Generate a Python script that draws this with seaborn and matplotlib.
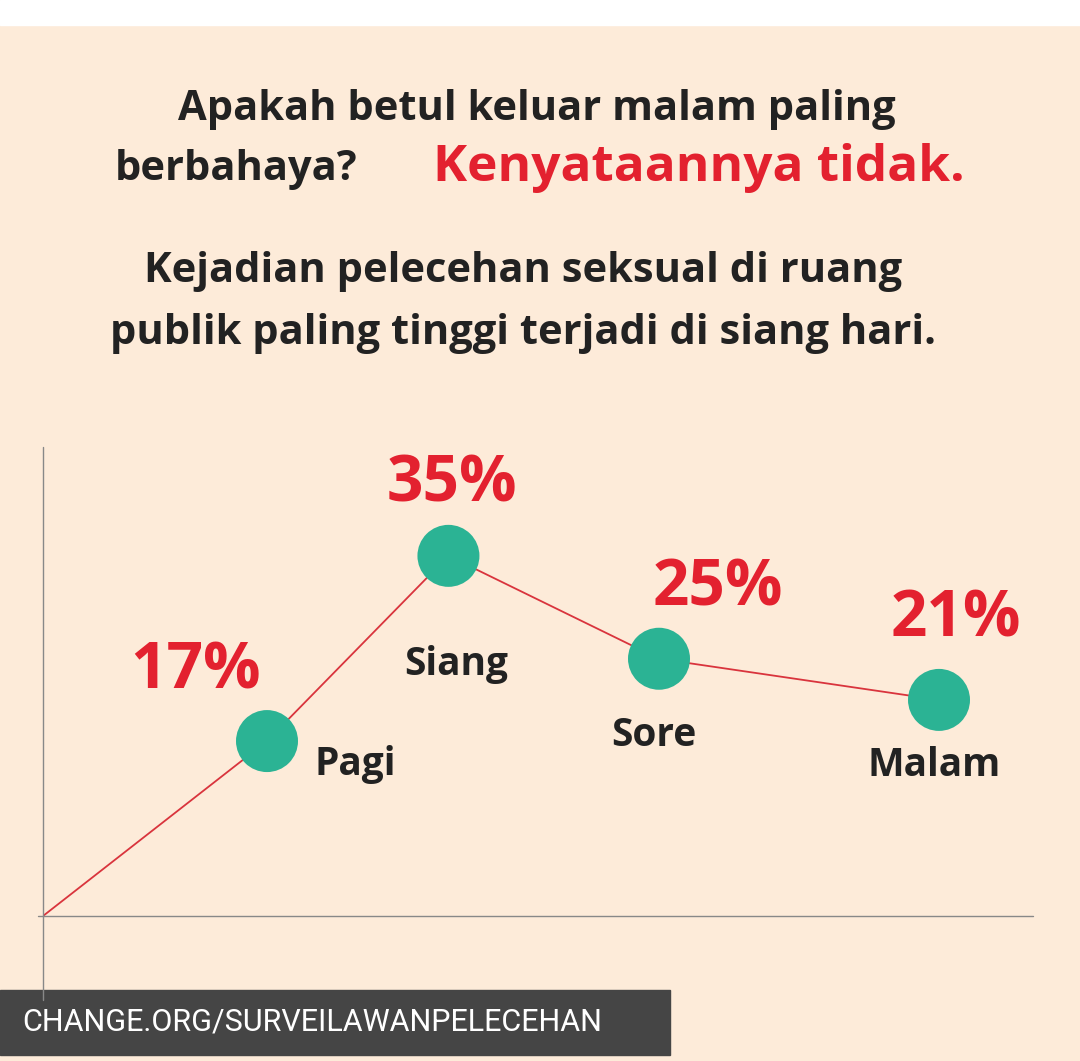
import matplotlib.pyplot as plt
import seaborn as sns
import pandas as pd
from matplotlib.lines import Line2D
from matplotlib.patches import Rectangle

# data
categories = ['', 'Pagi', 'Siang', 'Sore', 'Malam']
x_pos = [0, 1.0, 1.81, 2.75, 4.0]
values = [0, 17, 35, 25, 21]
pct_labels = ['', '17%', '35%', '25%', '21%']

BG = '#fdebd9'
RED = '#e3212f'
TEAL = '#2bb394'
DARK = '#222222'

sns.set_theme(style='white')
plt.rcParams['font.family'] = ['Open Sans', 'DejaVu Sans']

fig = plt.figure(figsize=(10.8, 10.61), dpi=100)
fig.patch.set_facecolor(BG)
W, H = 1080, 1061

# white strip at top
fig.add_artist(Rectangle((0, 1 - 25 / H), 1, 25 / H, transform=fig.transFigure, color='white'))

ax = fig.add_axes([43 / W, 145 / H, (1033 - 43) / W, (916 - 447) / H])
ax.set_facecolor('none')
df = pd.DataFrame({'x': x_pos, 'y': values, 'cat': categories})
sns.lineplot(data=df, x='x', y='y', ax=ax, color='#d9343d', lw=1.3)
sns.scatterplot(data=df.iloc[1:], x='x', y='y', ax=ax, color=TEAL, s=62 * 0.72 * 62 * 0.72,
                edgecolor='none', zorder=3)
ax.set_xlim(0, (1033 - 43) / 224)
ax.set_ylim(0, (916 - 447) / 10.29)
for s in ax.spines.values():
    s.set_visible(False)
ax.set_xticks([])
ax.set_yticks([])
ax.set_xlabel('')
ax.set_ylabel('')

# axis lines
fig.add_artist(Line2D([38 / W, 1033 / W], [1 - 916 / H] * 2, color='#888888', lw=1))
fig.add_artist(Line2D([43 / W] * 2, [1 - 447 / H, 1 - 1000 / H], color='#888888', lw=1))

pct_off = [None, (-71, -69), (3, -71), (59, -70), (17, -80)]
cat_off = [None, (88, 23), (8, 109), (-5, 77), (-5, 66)]
for i in range(1, len(values)):
    dx, dy = pct_off[i]
    ax.annotate(pct_labels[i], (x_pos[i], values[i]), xytext=(dx * 0.72, -dy * 0.72),
                textcoords='offset points', ha='center', va='center',
                color=RED, fontsize=46, fontweight='bold')
    dx, dy = cat_off[i]
    ax.annotate(categories[i], (x_pos[i], values[i]), xytext=(dx * 0.72, -dy * 0.72),
                textcoords='offset points', ha='center', va='center',
                color=DARK, fontsize=28, fontweight='bold')

# titles
fig.text(537 / W, 1 - 110 / H, 'Apakah betul keluar malam paling', ha='center', va='center',
         fontsize=30, fontweight='bold', color=DARK)
fig.text(115 / W, 1 - 170 / H, 'berbahaya?', ha='left', va='center',
         fontsize=30, fontweight='bold', color=DARK)
fig.text(965 / W, 1 - 168 / H, 'Kenyataannya tidak.', ha='right', va='center',
         fontsize=37, fontweight='bold', color=RED)
fig.text(523 / W, 1 - 272 / H, 'Kejadian pelecehan seksual di ruang', ha='center', va='center',
         fontsize=30, fontweight='bold', color=DARK)
fig.text(523 / W, 1 - 333 / H, 'publik paling tinggi terjadi di siang hari.', ha='center',
         va='center', fontsize=30, fontweight='bold', color=DARK)

# footer
fig.add_artist(Rectangle((0, 1 - 1055 / H), 670 / W, 65 / H, transform=fig.transFigure,
                         color='#454545'))
fig.text(22 / W, 1 - 1022 / H, 'CHANGE.ORG/SURVEILAWANPELECEHAN', ha='left', va='center',
         fontsize=22, color='white', family=['Roboto', 'DejaVu Sans'])

fig.savefig('out.png', dpi=100, facecolor=BG)
